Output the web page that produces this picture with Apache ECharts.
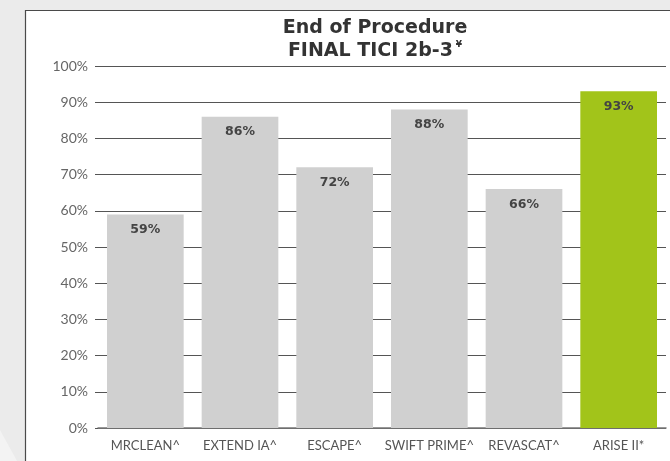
<!DOCTYPE html>
<html>
<head>
    <meta charset="UTF-8">
    <title>End of Procedure - FINAL TICI 2b-3</title>
    <script src="https://cdn.jsdelivr.net/npm/echarts@6.0.0/dist/echarts.min.js"></script>
    <style>
        body { margin: 0; padding: 0; background: #ebebeb; }
        #chart { width: 670px; height: 461px; }
    </style>
</head>
<body>
<div id="chart"></div>
<script>
// 数据
const trials = ['MRCLEAN^', 'EXTEND IA^', 'ESCAPE^', 'SWIFT PRIME^', 'REVASCAT^', 'ARISE II*'];
const tici = [59, 86, 72, 88, 66, 93];
const barColors = ['#d0d0d0', '#d0d0d0', '#d0d0d0', '#d0d0d0', '#d0d0d0', '#a2c41a'];
const yTicks = [0, 10, 20, 30, 40, 50, 60, 70, 80, 90, 100];

const chart = echarts.init(document.getElementById('chart'));

chart.setOption({
    backgroundColor: '#ebebeb',
    animation: false,
    graphic: [
        // 左下角浅色斜块
        { type: 'polygon', z: -10, shape: { points: [[0, 430], [0, 461], [17, 461]] },
          style: { fill: '#f3f3f3' } },
        // 白色面板
        { type: 'rect', z: -5, shape: { x: 25.5, y: 10.5, width: 700, height: 500 },
          style: { fill: '#ffffff', stroke: '#4a4a4a', lineWidth: 1.2 } }
    ],
    title: {
        text: '{t|End of Procedure}\n{t|FINAL TICI 2b-3}{s|¥}',
        left: 370,
        top: 12,
        textAlign: 'center',
        textStyle: {
            rich: {
                t: { fontFamily: 'DejaVu Sans', fontWeight: 'bold', fontSize: 19, color: '#333', lineHeight: 23 },
                s: { fontFamily: 'DejaVu Sans', fontWeight: 'bold', fontSize: 9, color: '#333', verticalAlign: 'top', padding: [0, 0, 10, 3] }
            }
        }
    },
    grid: { left: 98, right: 4, top: 66, bottom: 33 },
    xAxis: {
        type: 'category',
        data: trials,
        axisTick: { show: false },
        axisLine: { lineStyle: { color: '#777', width: 1.5 } },
        axisLabel: { color: '#555', fontFamily: 'Lato', fontSize: 13, margin: 11, interval: 0 }
    },
    yAxis: {
        type: 'value',
        min: 0,
        max: 100,
        interval: 10,
        axisLine: { show: false },
        axisTick: { show: true, length: 3, lineStyle: { color: '#555' } },
        splitLine: { lineStyle: { color: '#555', width: 1 } },
        axisLabel: {
            color: '#666', fontFamily: 'Lato', fontSize: 14, margin: 10,
            formatter: v => yTicks.includes(v) ? v + '%' : ''
        }
    },
    series: [{
        type: 'bar',
        barWidth: '81%',
        data: tici.map((v, i) => ({ value: v, itemStyle: { color: barColors[i] } })),
        label: {
            show: true,
            position: 'insideTop',
            distance: 9,
            formatter: '{c}%',
            fontFamily: 'DejaVu Sans',
            fontWeight: 'bold',
            fontSize: 12.5,
            color: '#444'
        }
    }]
});
</script>
</body>
</html>
